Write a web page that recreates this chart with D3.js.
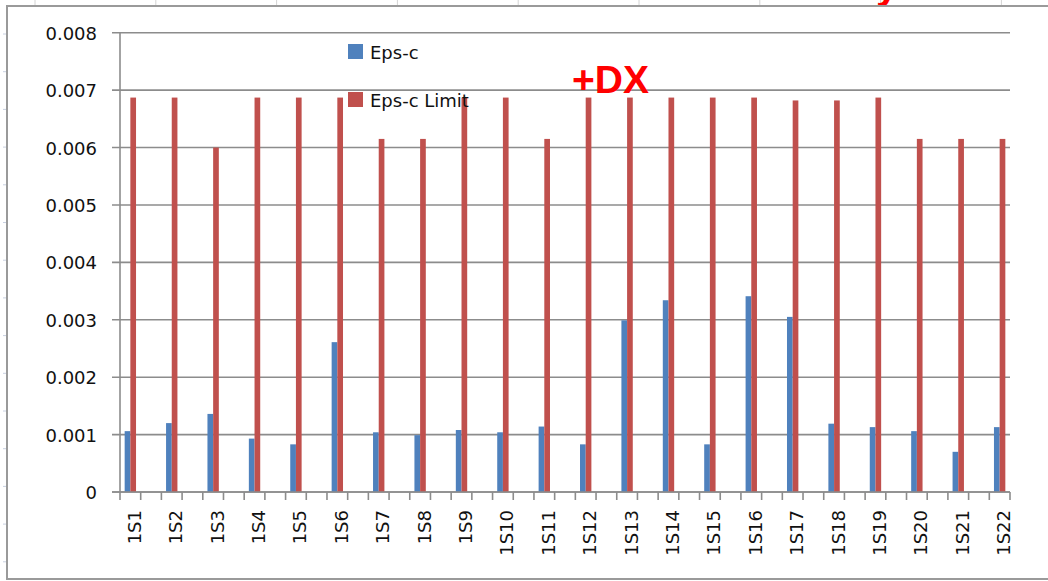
<!DOCTYPE html>
<html>
<head>
<meta charset="utf-8">
<script src="https://cdn.jsdelivr.net/npm/d3@7"></script>
<style>
  html, body { margin: 0; padding: 0; background: #fff; }
  #chart { width: 1048px; height: 581px; }
</style>
</head>
<body>
<div id="chart"></div>
<script>
// chart data
var categories = ["1S1", "1S2", "1S3", "1S4", "1S5", "1S6", "1S7", "1S8", "1S9", "1S10", "1S11",
                  "1S12", "1S13", "1S14", "1S15", "1S16", "1S17", "1S18", "1S19", "1S20", "1S21", "1S22"];
var epsC = [0.00106, 0.00120, 0.00136, 0.00093, 0.00083, 0.00261, 0.00104, 0.00099, 0.00108, 0.00104, 0.00114,
            0.00083, 0.00299, 0.00334, 0.00083, 0.00341, 0.00305, 0.00119, 0.00113, 0.00106, 0.00070, 0.00113];
var epsCLimit = [0.00687, 0.00687, 0.00600, 0.00687, 0.00687, 0.00687, 0.00615, 0.00615, 0.00687, 0.00687, 0.00615,
                 0.00687, 0.00687, 0.00687, 0.00687, 0.00687, 0.00682, 0.00682, 0.00687, 0.00615, 0.00615, 0.00615];
var seriesNames = ["Eps-c", "Eps-c Limit"];
var seriesColors = ["#4f81bd", "#c0504d"];
var yTicks = [0, 0.001, 0.002, 0.003, 0.004, 0.005, 0.006, 0.007, 0.008];

function init() {
    var container = d3.select("#chart");
    var w = 1048, h = 581;

    var svg = container.append("svg")
                .attr("width", w)
                .attr("height", h)
                .style("font-family", "'DejaVu Sans', sans-serif");

    // spreadsheet cell lines peeking out round the chart frame
    svg.append("g").selectAll("line")
        .data(d3.range(9))
        .enter().append("line")
        .attr("x1", function(d) { return 35 + d * 120.8; })
        .attr("x2", function(d) { return 35 + d * 120.8; })
        .attr("y1", 0).attr("y2", 6)
        .attr("stroke", "#d4d4d4");
    svg.append("g").selectAll("line")
        .data(d3.range(15))
        .enter().append("line")
        .attr("x1", 3).attr("x2", 6)
        .attr("y1", function(d) { return 34 + d * 37.7; })
        .attr("y2", function(d) { return 34 + d * 37.7; })
        .attr("stroke", "#c8d0e0");

    // red text cut off above the frame
    svg.append("text")
        .attr("x", 876).attr("y", -1)
        .attr("fill", "#ff0000")
        .style("font-family", "'Liberation Sans', Arial, sans-serif")
        .style("font-weight", "bold")
        .style("font-size", "40px")
        .text("y");

    // chart frame
    svg.append("rect")
        .attr("x", 7).attr("y", 6)
        .attr("width", 1060).attr("height", 573)
        .attr("fill", "#fff")
        .attr("stroke", "#9a9a9a")
        .attr("stroke-width", 2);

    // scales - every category is followed by an empty slot, as in the sheet
    var slots = [];
    categories.forEach(function(c, i) {
        slots.push(c);
        if (i < categories.length - 1) slots.push("gap" + i);
    });

    var x = d3.scaleBand()
                .domain(slots)
                .range([120, 1010]);
    var xs = d3.scaleBand()
                .domain(seriesNames)
                .range([0, x.bandwidth()])
                .paddingOuter(0.82);
    var y = d3.scaleLinear()
                .domain([0, 0.008])
                .range([492, 32.7]);

    var gridColor = "#8c8c8c";

    // horizontal gridlines with tick stubs
    svg.append("g").selectAll("line")
        .data(yTicks)
        .enter().append("line")
        .attr("x1", 112).attr("x2", 1010)
        .attr("y1", function(d) { return y(d); })
        .attr("y2", function(d) { return y(d); })
        .attr("stroke", gridColor)
        .attr("stroke-width", 1.6);

    // y axis line
    svg.append("line")
        .attr("x1", 120).attr("x2", 120)
        .attr("y1", y(0.008)).attr("y2", y(0))
        .attr("stroke", gridColor)
        .attr("stroke-width", 1.6);

    // y tick labels
    svg.append("g").selectAll("text")
        .data(yTicks)
        .enter().append("text")
        .attr("x", 97)
        .attr("y", function(d) { return y(d) + 7; })
        .attr("text-anchor", "end")
        .style("font-size", "18px")
        .attr("fill", "#111")
        .text(function(d) { return d === 0 ? "0" : d3.format(".3f")(d); });

    // x tick marks at every slot boundary
    var bounds = slots.map(function(s) { return x(s); }).concat([1010]);
    svg.append("g").selectAll("line")
        .data(bounds)
        .enter().append("line")
        .attr("x1", function(d) { return d; })
        .attr("x2", function(d) { return d; })
        .attr("y1", y(0)).attr("y2", y(0) + 8)
        .attr("stroke", gridColor)
        .attr("stroke-width", 1.6);

    // bars
    var series = [epsC, epsCLimit];
    series.forEach(function(vals, si) {
        svg.append("g").selectAll("rect")
            .data(vals)
            .enter().append("rect")
            .attr("x", function(d, i) { return x(categories[i]) + xs(seriesNames[si]); })
            .attr("width", xs.bandwidth())
            .attr("y", function(d) { return y(d); })
            .attr("height", function(d) { return y(0) - y(d); })
            .attr("fill", seriesColors[si]);
    });

    // x axis baseline over the bars
    svg.append("line")
        .attr("x1", 112).attr("x2", 1010)
        .attr("y1", y(0)).attr("y2", y(0))
        .attr("stroke", gridColor)
        .attr("stroke-width", 1.6);

    // x labels, rotated
    svg.append("g").selectAll("text")
        .data(categories)
        .enter().append("text")
        .attr("transform", function(d) {
            return "translate(" + (x(d) + x.bandwidth() / 2 + 10.5) + ",510) rotate(-90)";
        })
        .attr("text-anchor", "end")
        .style("font-size", "18px")
        .attr("fill", "#111")
        .text(function(d) { return d; });

    // legend
    var legend = svg.append("g").selectAll("g")
        .data(seriesNames)
        .enter().append("g")
        .attr("transform", function(d, i) { return "translate(348," + (44 + i * 48) + ")"; });
    legend.append("rect")
        .attr("width", 15).attr("height", 15)
        .attr("fill", function(d, i) { return seriesColors[i]; });
    legend.append("text")
        .attr("x", 22).attr("y", 15)
        .style("font-size", "18px")
        .attr("fill", "#111")
        .text(function(d) { return d; });

    // annotation
    svg.append("text")
        .attr("x", 572).attr("y", 93)
        .attr("fill", "#ff0000")
        .style("font-family", "'Liberation Sans', Arial, sans-serif")
        .style("font-weight", "bold")
        .style("font-size", "39px")
        .text("+DX");
}

window.onload = init;
</script>
</body>
</html>
